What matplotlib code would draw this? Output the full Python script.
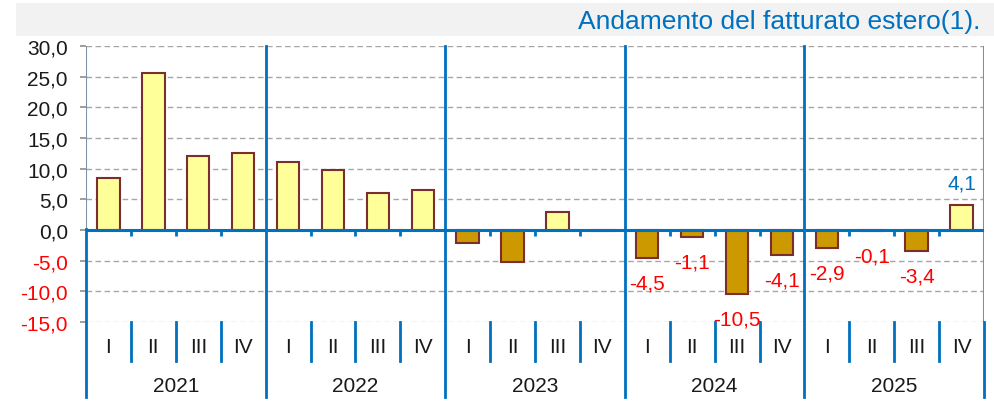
import matplotlib
matplotlib.use("Agg")
import matplotlib.pyplot as plt
from matplotlib.patches import Rectangle
from matplotlib.transforms import blended_transform_factory

plt.rcParams['font.family'] = ['Liberation Sans', 'DejaVu Sans']

title = "Andamento del fatturato estero(1)."
years = ["2021", "2022", "2023", "2024", "2025"]
quarters = ["I", "II", "III", "IV"]
values = [8.5, 25.6, 12.0, 12.5,
          11.1, 9.8, 6.1, 6.5,
          -2.1, -5.2, 3.0, -0.1,
          -4.5, -1.1, -10.5, -4.1,
          -2.9, -0.1, -3.4, 4.1]
labelled_years = ["2024", "2025"]
yticks = [30, 25, 20, 15, 10, 5, 0, -5, -10, -15]

W, H = 994, 402
fig = plt.figure(figsize=(W / 100, H / 100), dpi=100)

def fy(px):
    return 1 - px / H

# title band
fig.patches.append(Rectangle((16 / W, fy(37)), 1 - 16 / W, (37 - 4) / H,
                             transform=fig.transFigure, facecolor="#F2F2F2",
                             edgecolor="none", zorder=0))
fig.text(980 / W, fy(29), title, ha="right", va="baseline",
         fontsize=19, color="#0070C0")

left, right, top, bottom = 86, 984, 47, 323
ax = fig.add_axes([left / W, fy(bottom), (right - left) / W, (bottom - top) / H])
n = len(values)
ax.set_xlim(0, n)
ax.set_ylim(-15, 30)
for s in ax.spines.values():
    s.set_visible(False)

blue = "#0070C0"
grid_c = "#A6A6A6"
for y in yticks:
    if y == 0:
        continue
    ax.axhline(y, color=grid_c if y != -15 else "#C8C8C8", lw=1.0,
               dashes=(4, 2.5), zorder=1)

xs = [i + 0.5 for i in range(n)]
colors = ["#FFFF99" if v >= 0 else "#CC9900" for v in values]
ax.bar(xs, values, width=0.5, color=colors, edgecolor="#7A2E2E",
       linewidth=1.5, zorder=3)

# zero line
ax.axhline(0, color=blue, lw=2.2, zorder=4)

# small ticks at zero line
for i in range(1, n):
    if i % 4 != 0:
        ax.plot([i, i], [0, -1.0], color=blue, lw=2, zorder=4,
                solid_capstyle="butt")

bt = blended_transform_factory(ax.transData, fig.transFigure)
# left and right edges
ax.plot([0, 0], [0, 30], color="#7F93A8", lw=1.5, zorder=2)
ax.plot([n, n], [-15, 30], color="#8C8C8C", lw=1.5, zorder=2)
ax.plot([0, 0], [fy(230), fy(398)], color=blue, lw=2, transform=bt,
        clip_on=False, zorder=4)
ax.plot([n, n], [fy(323), fy(398)], color=blue, lw=2, transform=bt,
        clip_on=False, zorder=4)
# year separators
for k in range(1, len(years)):
    x = 4 * k
    ax.plot([x, x], [fy(top), fy(398)], color=blue, lw=2, transform=bt,
            clip_on=False, zorder=4)
# quarter separators
for i in range(1, n):
    if i % 4 != 0:
        ax.plot([i, i], [fy(323), fy(362)], color=blue, lw=2, transform=bt,
                clip_on=False, zorder=4)

# category labels
for i in range(n):
    ax.text(i + 0.5, fy(348), quarters[i % 4], transform=bt, ha="center",
            va="center", fontsize=15, color="#1A1A1A")
for k, yr in enumerate(years):
    ax.text(4 * k + 2, fy(387), yr, transform=bt, ha="center", va="center",
            fontsize=15, color="#1A1A1A")

# y ticks
ax.set_xticks([])
ax.set_yticks(yticks)
ax.set_yticklabels([f"{y:.1f}".replace(".", ",") for y in yticks], fontsize=15)
ax.tick_params(axis="y", length=4.5, width=1.2, color="#8C8C8C", pad=8.5)
for lab, y in zip(ax.get_yticklabels(), yticks):
    lab.set_color("#FF0000" if y < 0 else "#1A1A1A")

# data labels
for i, v in enumerate(values):
    if years[i // 4] in labelled_years:
        txt = f"{v:.1f}".replace(".", ",")
        if v < 0:
            ax.annotate(txt, (i + 0.5, v), xytext=(0, -18),
                        textcoords="offset points", ha="center", va="center",
                        fontsize=15, color="#FF0000", zorder=5)
        else:
            ax.annotate(txt, (i + 0.5, v), xytext=(0, 16),
                        textcoords="offset points", ha="center", va="center",
                        fontsize=15, color=blue, zorder=5)

fig.savefig("out.png", dpi=100)
